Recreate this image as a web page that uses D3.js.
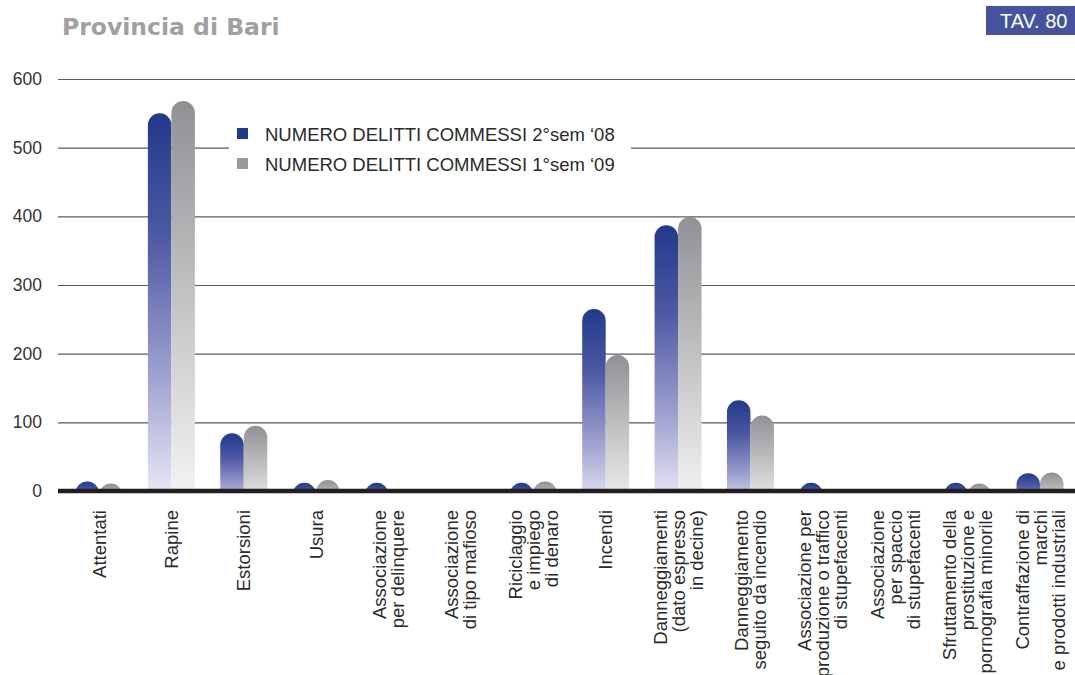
<!DOCTYPE html>
<html><head><meta charset="utf-8">
<script src="https://cdn.jsdelivr.net/npm/d3@7"></script>
<style>
html,body{margin:0;padding:0;background:#fff;}
svg{display:block;}
</style>
</head><body>
<svg id="chart" width="1075" height="675"></svg>
<script>
const title = "Provincia di Bari";
const tavLabel = "TAV. 80";
const categories = [
  "Attentati",
  "Rapine",
  "Estorsioni",
  "Usura",
  "Associazione\nper delinquere",
  "Associazione\ndi tipo mafioso",
  "Riciclaggio\ne impiego\ndi denaro",
  "Incendi",
  "Danneggiamenti\n(dato espresso\nin decine)",
  "Danneggiamento\nseguito da incendio",
  "Associazione per\nproduzione o traffico\ndi stupefacenti",
  "Associazione\nper spaccio\ndi stupefacenti",
  "Sfruttamento della\nprostituzione e\npornografia minorile",
  "Contraffazione di\nmarchi\ne prodotti industriali"
];
const seriesNames = ["NUMERO DELITTI COMMESSI 2°sem ‘08", "NUMERO DELITTI COMMESSI 1°sem ‘09"];
const values2sem08 = [14, 550, 84, 12, 12, 0, 12, 265, 387, 132, 12, 0, 12, 26];
const values1sem09 = [11, 568, 95, 16, 0, 0, 14, 198, 399, 110, 0, 0, 11, 27];
const yTicks = [0, 100, 200, 300, 400, 500, 600];

const svg = d3.select("#chart");
const W = 1075;
const left = 58;
const x = d3.scalePoint().domain(categories).range([99, 1040]);
const y = d3.scaleLinear().domain([0, 600]).range([491, 79]);
const bw = 23.5;

const defs = svg.append("defs");
const gBlue = defs.append("linearGradient").attr("id", "gBlue").attr("x1", 0).attr("y1", 0).attr("x2", 0).attr("y2", 1);
[[0, "#213a8c"], [0.3, "#4c58a2"], [0.65, "#9da0cf"], [1, "#f5f5fb"]].forEach(s => gBlue.append("stop").attr("offset", s[0]).attr("stop-color", s[1]));
const gGray = defs.append("linearGradient").attr("id", "gGray").attr("x1", 0).attr("y1", 0).attr("x2", 0).attr("y2", 1);
[[0, "#8f9194"], [0.45, "#bfc0c2"], [1, "#f8f8f8"]].forEach(s => gGray.append("stop").attr("offset", s[0]).attr("stop-color", s[1]));
defs.append("clipPath").attr("id", "plotClip").append("rect").attr("x", 0).attr("y", 0).attr("width", W).attr("height", y(0));

// Title
svg.append("text").attr("x", 62).attr("y", 35)
  .attr("font-family", "DejaVu Sans").attr("font-weight", "bold").attr("font-size", 23.5)
  .attr("fill", "#a0a0a2").text(title);

// TAV box
svg.append("rect").attr("x", 986).attr("y", 6).attr("width", 89).attr("height", 29).attr("fill", "#46529e");
svg.append("text").attr("x", 1000).attr("y", 28).attr("font-family", "Liberation Sans").attr("font-size", 20)
  .attr("fill", "#fff").text(tavLabel);

// Y axis + gridlines
const yAxis = d3.axisLeft(y).tickValues(yTicks).tickSize(-(W - left)).tickPadding(16).tickFormat(d3.format("d"));
const ga = svg.append("g").attr("transform", `translate(${left},0)`).call(yAxis);
ga.select(".domain").remove();
ga.selectAll(".tick line").attr("stroke", "#5a5a5a").attr("stroke-width", 1.2);
ga.selectAll(".tick text").attr("font-family", "Liberation Sans").attr("font-size", 17.5).attr("fill", "#333");

// Bars
const series = [
  {vals: values2sem08, fill: "url(#gBlue)", off: -bw},
  {vals: values1sem09, fill: "url(#gGray)", off: 0}
];
const bars = svg.append("g").attr("clip-path", "url(#plotClip)");
series.forEach(s => {
  bars.selectAll(null).data(categories.map((c, i) => ({c, v: s.vals[i]})).filter(d => d.v > 0))
    .enter().append("rect")
    .attr("x", d => x(d.c) + s.off)
    .attr("y", d => y(d.v))
    .attr("width", bw)
    .attr("height", d => y(0) - y(d.v) + bw)
    .attr("rx", bw / 2).attr("ry", bw / 2)
    .attr("fill", s.fill);
});

// Baseline
svg.append("line").attr("x1", left).attr("x2", W).attr("y1", y(0)).attr("y2", y(0))
  .attr("stroke", "#231f20").attr("stroke-width", 4.5);

// Legend
const lg = svg.append("g");
lg.append("rect").attr("x", 229).attr("y", 118).attr("width", 402).attr("height", 58).attr("fill", "#fff");
const legendColors = ["#223a8e", "#9a9b9e"];
seriesNames.forEach((n, i) => {
  lg.append("rect").attr("x", 237).attr("y", 128 + i * 30).attr("width", 11).attr("height", 11).attr("fill", legendColors[i]);
  lg.append("text").attr("x", 265).attr("y", 140.5 + i * 30).attr("font-family", "Liberation Sans").attr("font-size", 18.5)
    .attr("fill", "#2a2a2a").text(n);
});

// Category labels
const lh = 18;
const lab = svg.append("g");
categories.forEach(c => {
  const lines = c.split("\n");
  const n = lines.length;
  lines.forEach((t, i) => {
    const bx = x(c) + (i - (n - 1) / 2) * lh + 6.5;
    lab.append("text")
      .attr("transform", `translate(${bx},510) rotate(-90)`)
      .attr("text-anchor", "end")
      .attr("font-family", "Liberation Sans").attr("font-size", 18.5)
      .attr("fill", "#2a2a2a").text(t);
  });
});
</script>
</body></html>
